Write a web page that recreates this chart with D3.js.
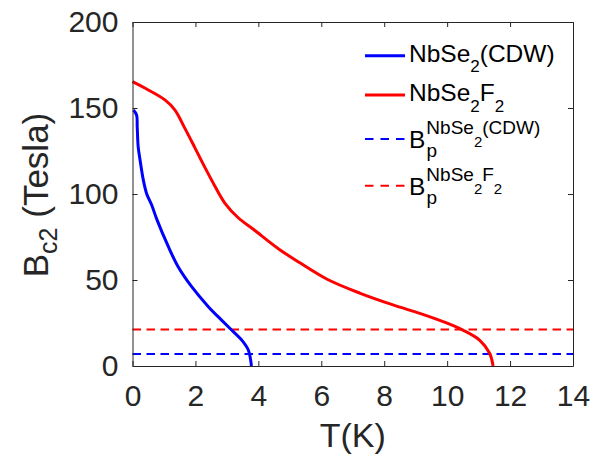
<!DOCTYPE html>
<html>
<head>
<meta charset="utf-8">
<script src="https://cdn.jsdelivr.net/npm/d3@7"></script>
<style>
  html, body { margin: 0; padding: 0; background: #fff; }
  svg { display: block; font-family: "Liberation Sans", Arial, Helvetica, sans-serif; }
</style>
</head>
<body>
<svg id="chart" width="595" height="461"></svg>
<script>
// Upper critical field vs temperature
const cdwT = [0.03, 0.13, 0.15, 0.18, 0.24, 0.34, 0.45, 0.61, 0.77, 1.14, 1.45, 1.88, 2.41, 2.83, 3.15, 3.47, 3.68, 3.78];
const cdwB = [148.8, 145.9, 139.1, 127.5, 119.8, 108.5, 100.2, 93.6, 85.4, 69.4, 57.7, 46.1, 34.5, 26.7, 20.9, 15.1, 9.3, 0];

const f2T = [0, 0.5, 1.03, 1.35, 1.67, 1.98, 2.3, 2.62, 2.94, 3.36, 3.84, 4.68, 5.32, 6.17, 7.22, 8.28, 9.13, 9.87, 10.5, 11.03, 11.35, 11.46];
const f2B = [165.3, 160.5, 154.7, 148.8, 138, 127, 115.5, 104.5, 94.6, 86.2, 79.5, 67.6, 60, 50.6, 42.4, 35.5, 30.6, 25.8, 20.9, 15.1, 7.4, 0];

// Pauli limits
const pauliCDW = 7.0;
const pauliF2 = 21.2;

const xTicks = [0, 2, 4, 6, 8, 10, 12, 14];
const yTicks = [0, 50, 100, 150, 200];

const svg = d3.select("#chart");
const plotL = 132.5, plotR = 573, plotT = 22, plotB = 366;
const ink = "#262626";

const x = d3.scaleLinear().domain([0, 14]).range([plotL, plotR]);
const y = d3.scaleLinear().domain([0, 200]).range([plotB, plotT]);

const BLUE = "#0000ff", RED = "#ff0000";

// Pauli limit lines
const dash = "8.5,5.5";
[[pauliF2, RED], [pauliCDW, BLUE]].forEach(([v, c]) => {
  svg.append("line")
    .attr("x1", x(0)).attr("x2", x(14))
    .attr("y1", y(v)).attr("y2", y(v))
    .attr("stroke", c).attr("stroke-width", 2)
    .attr("stroke-dasharray", dash);
});

// Bc2 curves
const line = d3.line().x(d => x(d[0])).y(d => y(d[1])).curve(d3.curveCatmullRom.alpha(0.5));
svg.append("path")
  .datum(cdwT.map((t, i) => [t, cdwB[i]]))
  .attr("d", line).attr("fill", "none")
  .attr("stroke", BLUE).attr("stroke-width", 3).attr("stroke-linejoin", "round");
svg.append("path")
  .datum(f2T.map((t, i) => [t, f2B[i]]))
  .attr("d", line).attr("fill", "none")
  .attr("stroke", RED).attr("stroke-width", 3).attr("stroke-linejoin", "round");

// Axes (box with inward ticks)
function styleAxis(g) {
  g.attr("font-family", null).attr("font-size", null);
  g.selectAll("path.domain").attr("stroke", ink).attr("stroke-width", 1);
  g.selectAll(".tick line").attr("stroke", ink).attr("stroke-width", 1);
  g.selectAll(".tick text").attr("fill", ink).style("font-size", "30px");
}
svg.append("g").attr("transform", `translate(0,${plotB})`)
  .call(d3.axisBottom(x).tickValues(xTicks).tickFormat(d3.format("d"))
    .tickSizeInner(-5).tickSizeOuter(0).tickPadding(18.4))
  .call(styleAxis);
svg.append("g").attr("transform", `translate(0,${plotT})`)
  .call(d3.axisTop(x).tickValues(xTicks).tickFormat("")
    .tickSizeInner(-5).tickSizeOuter(0))
  .call(styleAxis);
svg.append("g").attr("transform", `translate(${plotL},0)`)
  .call(d3.axisLeft(y).tickValues(yTicks).tickFormat(d3.format("d"))
    .tickSizeInner(-5).tickSizeOuter(0).tickPadding(14))
  .call(styleAxis);
svg.append("g").attr("transform", `translate(${plotR},0)`)
  .call(d3.axisRight(y).tickValues(yTicks).tickFormat("")
    .tickSizeInner(-5).tickSizeOuter(0))
  .call(styleAxis);

// Axis labels
svg.append("text")
  .attr("x", (plotL + plotR) / 2).attr("y", 446.7)
  .attr("text-anchor", "middle").attr("fill", ink)
  .style("font-size", "34px").text("T(K)");

const yl = svg.append("text")
  .attr("transform", `translate(48,195) rotate(-90)`)
  .attr("text-anchor", "middle").attr("fill", ink)
  .style("font-size", "35px");
yl.append("tspan").text("B");
yl.append("tspan").attr("dy", 9).style("font-size", "25px").text("c2");
yl.append("tspan").attr("dy", -9).text(" (Tesla)");

// Legend
const lx0 = 365, lx1 = 405, tx = 409;
const leg = svg.append("g").attr("fill", "#000");

function sample(yv, color, dashed) {
  leg.append("line").attr("x1", lx0).attr("x2", lx1).attr("y1", yv).attr("y2", yv)
    .attr("stroke", color).attr("stroke-width", dashed ? 2 : 3)
    .attr("stroke-dasharray", dashed ? "8.5,7" : null);
}

// NbSe2(CDW)
sample(55.7, BLUE, false);
let t = leg.append("text").attr("x", tx).attr("y", 61.5).style("font-size", "24.5px");
t.append("tspan").text("NbSe");
t.append("tspan").attr("dy", 10).style("font-size", "17px").text("2");
t.append("tspan").attr("dy", -10).text("(CDW)");

// NbSe2F2
sample(95, RED, false);
t = leg.append("text").attr("x", tx).attr("y", 100.5).style("font-size", "24.5px");
t.append("tspan").text("NbSe");
t.append("tspan").attr("dy", 11).style("font-size", "17px").text("2");
t.append("tspan").attr("dy", -11).text("F");
t.append("tspan").attr("dy", 11).style("font-size", "17px").text("2");

// B_p^{NbSe2(CDW)}
sample(139, BLUE, true);
t = leg.append("text").attr("x", tx).attr("y", 148).style("font-size", "24.5px");
t.append("tspan").text("B");
t.append("tspan").attr("dx", 1).attr("dy", -13.6).style("font-size", "19px").text("NbSe");
t.append("tspan").attr("dy", 12.4).style("font-size", "15px").text("2");
t.append("tspan").attr("dy", -12.4).style("font-size", "19px").text("(CDW)");
leg.append("text").attr("x", 426.5).attr("y", 157).style("font-size", "19px").text("p");

// B_p^{NbSe2F2}
sample(185.7, RED, true);
t = leg.append("text").attr("x", tx).attr("y", 194.7).style("font-size", "24.5px");
t.append("tspan").text("B");
t.append("tspan").attr("dx", 1).attr("dy", -13.6).style("font-size", "19px").text("NbSe");
t.append("tspan").attr("dy", 12.4).style("font-size", "15px").text("2");
t.append("tspan").attr("dy", -12.4).style("font-size", "19px").text("F");
t.append("tspan").attr("dy", 12.4).style("font-size", "15px").text("2");
leg.append("text").attr("x", 426.5).attr("y", 203.7).style("font-size", "19px").text("p");
</script>
</body>
</html>
